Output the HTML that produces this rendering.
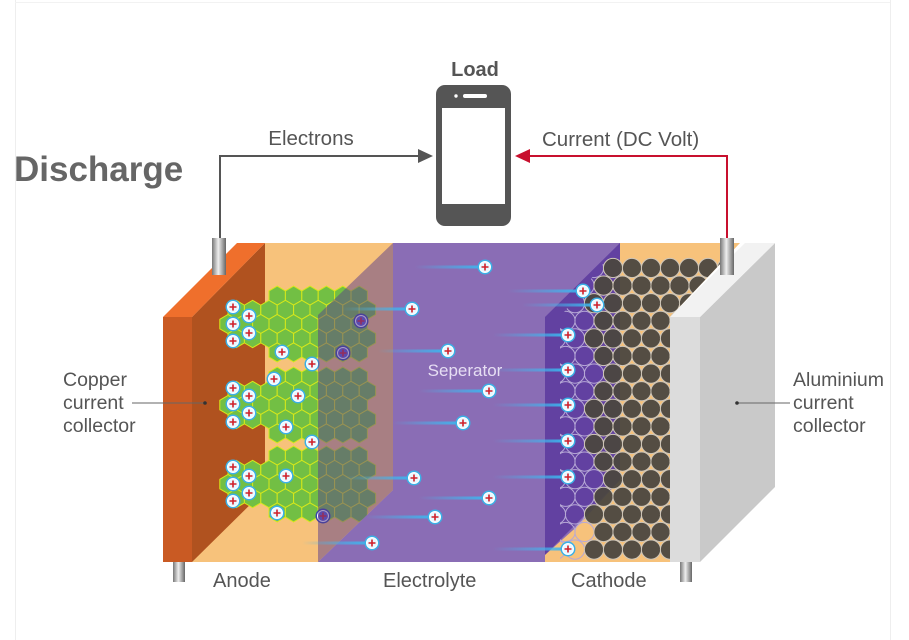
<!DOCTYPE html>
<html><head><meta charset="utf-8"><style>
html,body{margin:0;padding:0;background:#fff;}
svg{display:block;font-family:"Liberation Sans",Arial,sans-serif;}
</style></head><body>
<svg id="s" width="909" height="640" viewBox="0 0 909 640" xmlns="http://www.w3.org/2000/svg">
<defs>
<linearGradient id="tr" x1="0" x2="1" y1="0" y2="0"><stop offset="0" stop-color="#4ab8f0" stop-opacity="0"/><stop offset="1" stop-color="#3cb4ee" stop-opacity="1"/></linearGradient>
<linearGradient id="cyl" x1="0" x2="1"><stop offset="0" stop-color="#777"/><stop offset="0.45" stop-color="#eee"/><stop offset="1" stop-color="#666"/></linearGradient>
<clipPath id="cc"><polygon points="560,317 620,243 740,243 670,317 670,562 560,562"/></clipPath>
</defs>
<rect x="0" y="0" width="909" height="640" fill="#fff"/>
<line x1="15.5" y1="0" x2="15.5" y2="640" stroke="#eee"/>
<line x1="890.5" y1="0" x2="890.5" y2="640" stroke="#eee"/>
<line x1="15" y1="2.5" x2="890" y2="2.5" stroke="#f2f2f2"/>

<text x="14" y="181" font-size="35" font-weight="bold" fill="#666">Discharge</text>
<text x="475" y="76" font-size="20" font-weight="bold" fill="#555" text-anchor="middle">Load</text>
<text x="311" y="145" font-size="20.5" fill="#555" text-anchor="middle">Electrons</text>
<text x="542" y="146" font-size="20.5" fill="#555">Current (DC Volt)</text>

<rect x="436" y="85" width="75" height="141" rx="9" fill="#555"/>
<rect x="442" y="108" width="63" height="96" fill="#fff"/>
<rect x="463" y="94" width="24" height="4" rx="2" fill="#fff"/>
<circle cx="456" cy="96" r="1.7" fill="#fff"/>

<polyline points="220,240 220,156 420,156" fill="none" stroke="#555" stroke-width="2"/>
<polygon points="418,149 433,156 418,163" fill="#555"/>
<polyline points="727,240 727,156 530,156" fill="none" stroke="#c8102e" stroke-width="2"/>
<polygon points="530,149 515,156 530,163" fill="#c8102e"/>

<polygon points="192,317 265,243 740,243 670,317 670,562 192,562" fill="#f7c27b"/>
<polygon points="192,317 265,243 265,490 192,562" fill="#b0521f"/>
<polygon points="163,317 237,243 265,243 192,317" fill="#ef6f2c"/>
<rect x="163" y="317" width="29" height="245" fill="#c95a23"/>
<g id="hex"></g>
<g id="ionsA"></g>
<polygon points="318,315 393,243 393,490 318,562" fill="#5a3c8c" fill-opacity="0.5"/>
<polygon points="393,243 620,243 620,480 545,562 318,562 393,490" fill="#8a6db5"/>
<polygon points="545,317 620,243 620,480 545,555" fill="#5a3a9e" fill-opacity="0.85"/>
<polygon points="545,562 545,555 590,515 600,562" fill="#f7c27b"/>
<g id="circ" clip-path="url(#cc)"></g>
<polygon points="700,317 775,243 775,487 700,562" fill="#c9c9c9"/>
<polygon points="670,317 745,243 775,243 700,317" fill="#f2f2f2"/>
<rect x="670" y="317" width="30" height="245" fill="#dcdcdc"/>
<g id="ionsB"></g>
<text x="465" y="376" font-size="17" fill="#e6def3" text-anchor="middle">Seperator</text>

<rect x="212" y="238" width="14" height="37" fill="url(#cyl)"/>
<rect x="720" y="238" width="14" height="37" fill="url(#cyl)"/>
<rect x="173" y="562" width="12" height="20" fill="url(#cyl)"/>
<rect x="680" y="562" width="12" height="20" fill="url(#cyl)"/>

<text font-size="19.5" fill="#555"><tspan x="63" y="386">Copper</tspan><tspan x="63" y="409">current</tspan><tspan x="63" y="432">collector</tspan></text>
<line x1="132" y1="403" x2="205" y2="403" stroke="#666"/>
<circle cx="205" cy="403" r="1.8" fill="#333"/>
<text font-size="19.5" fill="#555"><tspan x="793" y="386">Aluminium</tspan><tspan x="793" y="409">current</tspan><tspan x="793" y="432">collector</tspan></text>
<line x1="737" y1="403" x2="790" y2="403" stroke="#666"/>
<circle cx="737" cy="403" r="1.8" fill="#333"/>
<text x="213" y="587" font-size="20" fill="#555">Anode</text>
<text x="383" y="587" font-size="20" fill="#555">Electrolyte</text>
<text x="571" y="587" font-size="20" fill="#555">Cathode</text>
</svg>
<script>
var NS="http://www.w3.org/2000/svg";
function el(p,t,a){var e=document.createElementNS(NS,t);for(var k in a)e.setAttribute(k,a[k]);p.appendChild(e);return e;}
var hex=document.getElementById('hex');
[324,405,484].forEach(function(cy){
  var r=9.5,w=16.4;
  for(var row=-2;row<=2;row++){
    var y=cy+row*14.2, off=(row%2!==0)?w/2:0;
    for(var x=228+off;x<=374;x+=w){
      if(x<262 && Math.abs(row)==2) continue;
      var pts=[];for(var i=0;i<6;i++){var a=Math.PI/3*i+Math.PI/6;pts.push((x+r*Math.cos(a)).toFixed(1)+','+(y+r*Math.sin(a)).toFixed(1));}
      el(hex,'polygon',{points:pts.join(' '),fill:'#72bf44',stroke:'#d6e81a','stroke-width':'1'});
    }
  }
});
function ion(g,x,y,dark,trail){
  if(trail) el(g,'rect',{x:x-trail,y:y-1.5,width:trail,height:3,fill:'url(#tr)'});
  el(g,'circle',{cx:x,cy:y,r:7.5,fill:dark?'#3a46a8':'#3bb0e6'});
  el(g,'circle',{cx:x,cy:y,r:5.5,fill:dark?'#5a5ad0':'#e8f8ff',stroke:'#fff','stroke-width':'1'});
  el(g,'path',{d:'M'+(x-3.5)+' '+y+'h7M'+x+' '+(y-3.5)+'v7',stroke:'#d0202a','stroke-width':'1.6'});
}
var A=document.getElementById('ionsA');
[[233,307],[249,316],[233,324],[249,333],[233,341],[233,388],[249,396],[233,404],[249,413],[233,422],[233,467],[249,476],[233,484],[249,493],[233,501],
 [282,352],[312,364],[274,379],[298,396],[286,427],[312,442],[286,476],[277,513]].forEach(function(p){ion(A,p[0],p[1],false,0);});
[[361,321],[343,353],[323,516]].forEach(function(p){ion(A,p[0],p[1],true,0);});
var C=document.getElementById('circ');
for(var row=0;row<17;row++){
  var y=268+row*17.6, off=(row%2)?9.5:0;
  for(var x=556+off;x<750;x+=19){
    var faded = x<590 || (x<600 && row%3==0);
    el(C,'circle',{cx:x,cy:y,r:9.6,fill:faded?'none':'#4b4740',stroke:faded?'#b6a8d6':'#cfc6b8','stroke-width':'1','fill-opacity':'0.95'});
  }
}
var B=document.getElementById('ionsB');
[[485,267],[412,309],[448,351],[489,391],[463,423],[414,478],[489,498],[435,517],[372,543]].forEach(function(p){ion(B,p[0],p[1],false,70);});
[[583,291],[597,305],[568,335],[568,370],[568,405],[568,441],[568,477],[568,549]].forEach(function(p){ion(B,p[0],p[1],false,75);});
</script>
</body></html>
